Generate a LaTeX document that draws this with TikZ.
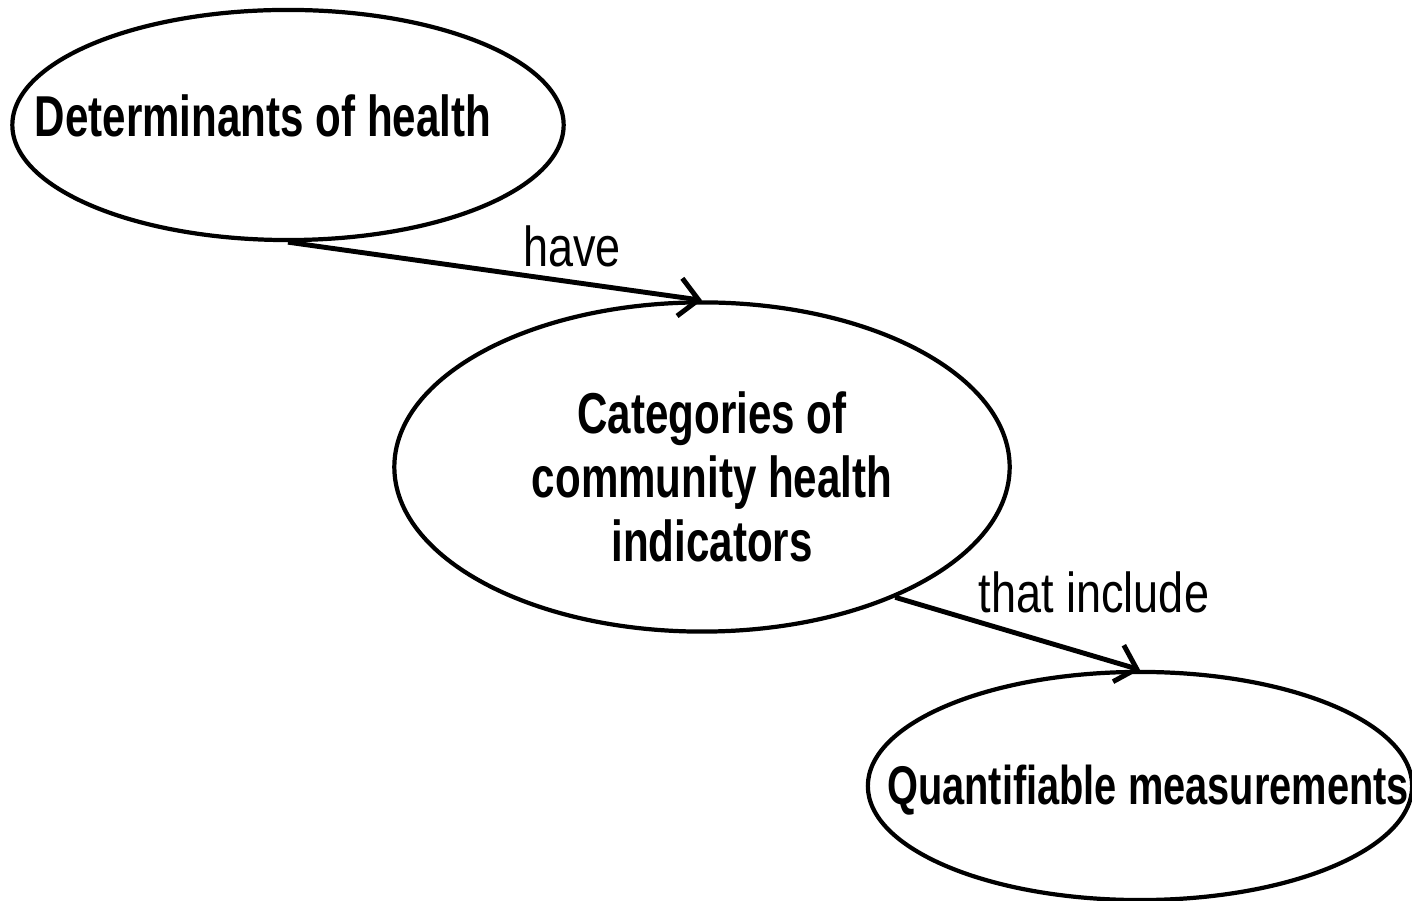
\documentclass[tikz,border=0pt]{standalone}
\usepackage{fontspec}
\usetikzlibrary{shapes.geometric,arrows.meta}
\setmainfont{Liberation Sans}
\newfontfamily\conceptfont[FakeStretch=0.73]{Liberation Sans}
\newfontfamily\linkfont[FakeStretch=0.8]{Liberation Sans}
\begin{document}
\begin{tikzpicture}[x=0.01cm,y=-0.01cm,
  concept/.style={draw, ellipse, line width=1.2pt, inner sep=0pt},
  conceptText/.style={font=\conceptfont\bfseries\fontsize{16.4}{18.2}\selectfont, align=center, inner sep=0pt},
  linkText/.style={font=\linkfont\fontsize{16}{19}\selectfont, inner sep=0pt, anchor=base},
  link/.style={line width=1.4pt, -{Straight Barb[length=1.9mm,width=3.8mm]}}]
\useasboundingbox (0,0) rectangle (1412,901);

% concept ellipses
\node[concept, minimum width=5.51cm, minimum height=2.3cm] (d) at (288,125) {};
\node[concept, minimum width=6.15cm, minimum height=3.29cm] (c) at (702,467) {};
\node[concept, minimum width=5.44cm, minimum height=2.28cm] (q) at (1140,786) {};

% concept texts
\node[conceptText, anchor=base] (dt) at (263,137) {Determinants of health};
\node[conceptText, anchor=center] (ct) at (712,477) {Categories of\\community health\\indicators};
\node[conceptText, anchor=base, font=\conceptfont\bfseries\fontsize{15.5}{18.2}\selectfont] (qt) at (1148,805) {Quantifiable measurements};

% links
\draw[link] (d.south) -- (c.north);
\draw[link] (c.-34) -- (q.north);
\node[linkText] (l1) at (572,267) {have};
\node[linkText] (l2) at (1094,613) {that include};
\end{tikzpicture}
\end{document}
